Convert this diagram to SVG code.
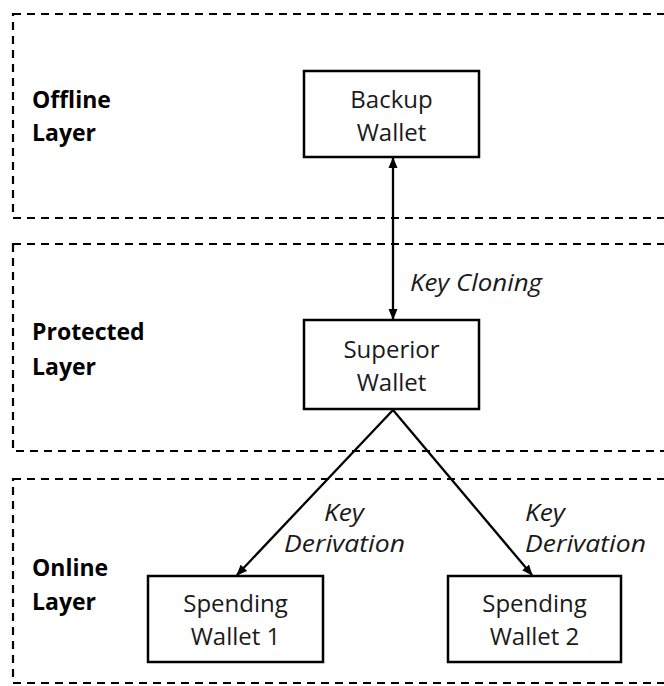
<svg xmlns="http://www.w3.org/2000/svg" width="664" height="686" viewBox="0 0 664 686">
<style>
.layer{fill:none;stroke:#000;stroke-width:2.2;stroke-dasharray:8 6}
.box{fill:#fff;stroke:#000;stroke-width:2.5}
.bt{font-family:"Open Sans",sans-serif;font-size:24px;fill:#1a1a1a;text-anchor:middle}
.lt{font-family:"Open Sans",sans-serif;font-size:23px;font-weight:bold;fill:#000}
.et{font-family:"Open Sans",sans-serif;font-size:23px;font-style:italic;fill:#1a1a1a}
.conn{stroke:#000;stroke-width:2.3;fill:none}
</style>
<defs>
<marker id="ah" markerWidth="12" markerHeight="12" refX="10" refY="5" orient="auto-start-reverse" markerUnits="userSpaceOnUse"><path d="M0,0.5 L11,5 L0,9.5 Z" fill="#000"/></marker>
</defs>
<rect width="664" height="686" fill="#fff"/>
<g id="layer-offline">
<rect class="layer" x="13" y="14" width="700" height="204"/>
<text class="lt" x="32" y="108">Offline</text>
<text class="lt" x="32" y="141">Layer</text>
</g>
<g id="layer-protected">
<rect class="layer" x="13" y="244" width="700" height="207"/>
<text class="lt" x="32" y="340">Protected</text>
<text class="lt" x="32" y="375">Layer</text>
</g>
<g id="layer-online">
<rect class="layer" x="13" y="479" width="700" height="204"/>
<text class="lt" x="32" y="576">Online</text>
<text class="lt" x="32" y="610">Layer</text>
</g>
<g id="connectors">
<line class="conn" x1="393" y1="158" x2="393" y2="319" marker-start="url(#ah)" marker-end="url(#ah)"/>
<line class="conn" x1="393" y1="410" x2="237" y2="575" marker-end="url(#ah)"/>
<line class="conn" x1="393" y1="410" x2="532" y2="575" marker-end="url(#ah)"/>
<text class="et" x="410" y="291" textLength="132" lengthAdjust="spacingAndGlyphs">Key Cloning</text>
<text class="et" x="324" y="521" textLength="40" lengthAdjust="spacingAndGlyphs">Key</text>
<text class="et" x="284" y="552" textLength="121" lengthAdjust="spacingAndGlyphs">Derivation</text>
<text class="et" x="525" y="521" textLength="40" lengthAdjust="spacingAndGlyphs">Key</text>
<text class="et" x="525" y="552" textLength="121" lengthAdjust="spacingAndGlyphs">Derivation</text>
</g>
<g id="backup-wallet">
<rect class="box" x="304" y="71" width="175" height="86"/>
<text class="bt" x="391.5" y="108">Backup</text>
<text class="bt" x="391.5" y="141">Wallet</text>
</g>
<g id="superior-wallet">
<rect class="box" x="304" y="320" width="175" height="89"/>
<text class="bt" x="391.5" y="358">Superior</text>
<text class="bt" x="391.5" y="391">Wallet</text>
</g>
<g id="spending-wallet-1">
<rect class="box" x="148" y="576" width="175" height="86"/>
<text class="bt" x="235.5" y="612">Spending</text>
<text class="bt" x="235.5" y="645">Wallet 1</text>
</g>
<g id="spending-wallet-2">
<rect class="box" x="448" y="576" width="173" height="86"/>
<text class="bt" x="534.5" y="612">Spending</text>
<text class="bt" x="534.5" y="645">Wallet 2</text>
</g>
</svg>
